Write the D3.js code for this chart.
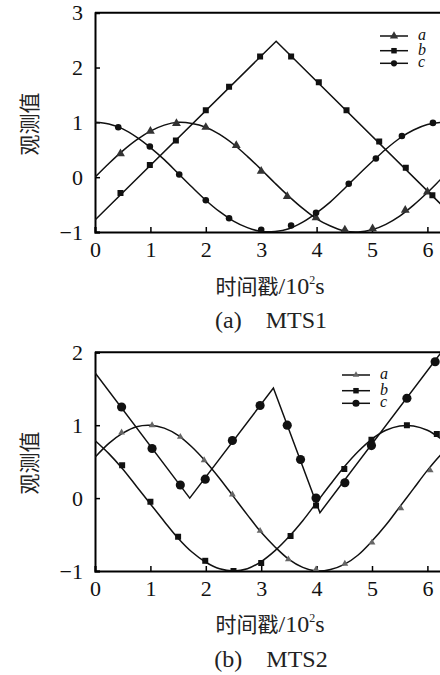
<!DOCTYPE html>
<html><head><meta charset="utf-8">
<script src="https://cdn.jsdelivr.net/npm/d3@7"></script>
<style>body{margin:0;background:#fff}svg{display:block}</style>
</head><body>
<script>
// ---------- data ----------
const xTicks = [0,1,2,3,4,5,6];
const yTicks1 = [-1,0,1,2,3];
const yTicks2 = [-1,0,1,2];
const seriesNames = ["a","b","c"];
const xs = [0,0.25,0.5,0.75,1,1.25,1.5,1.75,2,2.25,2.5,2.75,3,3.25,3.5,3.75,4,4.25,4.5,4.75,5,5.25,5.5,5.75,6,6.25,6.5];

// MTS1
const mts1A = [0,0.25,0.48,0.68,0.84,0.95,1.0,0.98,0.91,0.78,0.6,0.38,0.14,-0.11,-0.35,-0.57,-0.76,-0.89,-0.98,-1.0,-0.96,-0.86,-0.71,-0.51,-0.28,-0.03,0.22];
const mts1C = [1.0,0.97,0.88,0.73,0.54,0.32,0.07,-0.18,-0.42,-0.63,-0.8,-0.92,-0.99,-0.99,-0.94,-0.82,-0.65,-0.45,-0.21,0.04,0.28,0.51,0.71,0.86,0.96,1.0,0.98];
const mts1Bx = [0,3.27,6.6];
const mts1By = [-0.78,2.48,-0.85];
const mts1AmX = [0.46,1.0,1.47,2.0,2.55,3.0,3.47,3.99,4.51,5.01,5.6,6.0];
const mts1AmY = [0.43,0.84,0.98,0.91,0.58,0.11,-0.35,-0.74,-0.96,-0.94,-0.6,-0.27];
const mts1BmX = [0.46,0.99,1.46,2.0,2.42,2.98,3.54,4.04,4.54,5.13,5.61,6.09];
const mts1BmY = [-0.29,0.22,0.67,1.22,1.65,2.2,2.2,1.73,1.22,0.65,0.17,-0.33];
const mts1CmX = [0.42,0.99,1.52,2.0,2.42,3.0,3.54,3.99,4.58,5.07,5.54,6.1];
const mts1CmY = [0.91,0.56,0.05,-0.42,-0.75,-0.96,-0.88,-0.65,-0.12,0.34,0.75,0.99];

// MTS2
const mts2A = [0.56,0.75,0.89,0.98,1.0,0.96,0.86,0.7,0.5,0.27,0.02,-0.23,-0.47,-0.67,-0.84,-0.95,-1.0,-0.98,-0.91,-0.78,-0.59,-0.37,-0.12,0.13,0.38,0.6,0.78];
const mts2B = [0.79,0.61,0.4,0.16,-0.08,-0.32,-0.55,-0.74,-0.88,-0.97,-1.0,-0.97,-0.87,-0.72,-0.53,-0.31,-0.06,0.19,0.43,0.64,0.81,0.93,0.99,0.99,0.93,0.81,0.65];
const mts2Cx = [0,1.71,3.22,4.06,6.5];
const mts2Cy = [1.72,0,1.51,-0.2,2.25];
const mts2AmX = [0.48,1.03,1.54,1.97,2.48,2.98,3.49,3.99,4.51,5.0,5.52,6.05];
const mts2AmY = [0.9,1.0,0.84,0.52,0.05,-0.45,-0.84,-0.98,-0.9,-0.61,-0.14,0.38];
const mts2BmX = [0.49,1.0,1.5,1.99,2.5,3.0,3.53,3.99,4.5,4.99,5.63,6.17];
const mts2BmY = [0.45,-0.05,-0.53,-0.86,-1.0,-0.89,-0.52,-0.1,0.4,0.8,1.0,0.88];
const mts2CmX = [0.48,1.03,1.54,1.99,2.48,2.98,3.47,3.71,3.99,4.51,4.99,5.63,6.14];
const mts2CmY = [1.25,0.68,0.18,0.26,0.79,1.27,1.0,0.53,0.0,0.21,0.72,1.37,1.87];

// ---------- drawing ----------
const W = 440, H = 675;
const svg = d3.select("body").append("svg").attr("width", W).attr("height", H);
const serif = "'Liberation Serif','Times New Roman',serif";
const cjk = "'Noto Sans CJK SC',sans-serif";

function zip(x, y){ return x.map((v,i)=>[v,y[i]]); }

function panel(cfg){
  const g = svg.append("g");
  const x = d3.scaleLinear().domain([0,7]).range([95, 95+7*55.4]);
  const y = d3.scaleLinear().domain(cfg.yDomain).range([cfg.bottom, cfg.top]);
  const id = "clip"+cfg.id;
  svg.append("clipPath").attr("id", id).append("rect")
    .attr("x", x(0)).attr("y", y(cfg.yDomain[1])).attr("width", x(7)-x(0)).attr("height", y(cfg.yDomain[0])-y(cfg.yDomain[1]));

  // axes
  const xa = g.append("g").attr("transform", `translate(0,${y(cfg.yDomain[0])})`)
    .call(d3.axisBottom(x).tickValues(xTicks).tickSize(-5).tickPadding(9).tickFormat(d3.format("d")));
  const ya = g.append("g").attr("transform", `translate(${x(0)},0)`)
    .call(d3.axisLeft(y).tickValues(cfg.yTicks).tickSize(-5).tickPadding(12).tickFormat(d=> d<0 ? "\u2212"+Math.abs(d) : d));
  [xa, ya].forEach(a=>{
    a.select(".domain").attr("stroke","#000").attr("stroke-width",2);
    a.selectAll(".tick line").attr("stroke","#000").attr("stroke-width",1.5);
    a.selectAll("text").attr("font-family", serif).attr("font-size", 22).attr("fill","#111");
  });
  // top frame
  g.append("line").attr("x1", x(0)).attr("x2", x(7)).attr("y1", y(cfg.yDomain[1])).attr("y2", y(cfg.yDomain[1]))
    .attr("stroke","#000").attr("stroke-width",2);

  const plot = g.append("g").attr("clip-path", `url(#${id})`);
  cfg.series.forEach(s=>{
    const line = d3.line().x(d=>x(d[0])).y(d=>y(d[1])).curve(s.smooth ? d3.curveCatmullRom.alpha(0.5) : d3.curveLinear);
    plot.append("path").datum(s.pts).attr("d", line).attr("fill","none").attr("stroke","#111").attr("stroke-width",1.5);
  });
  cfg.series.forEach(s=>{
    plot.selectAll(null).data(s.marks).enter().append("path")
      .attr("transform", d=>`translate(${x(d[0])},${y(d[1])})`)
      .attr("d", d3.symbol().type(s.sym).size(s.size))
      .attr("fill", s.fill);
  });

  // legend
  const lg = g.append("g");
  cfg.series.forEach((s,i)=>{
    const ly = cfg.legY[i];
    lg.append("line").attr("x1", cfg.legX).attr("x2", cfg.legX+28).attr("y1", ly).attr("y2", ly).attr("stroke","#111").attr("stroke-width",1.5);
    lg.append("path").attr("transform", `translate(${cfg.legX+14},${ly})`).attr("d", d3.symbol().type(s.sym).size(s.legSize)).attr("fill", s.fill);
    lg.append("text").attr("x", cfg.legX+38).attr("y", ly+4).text(seriesNames[i])
      .attr("font-family", serif).attr("font-style","italic").attr("font-size", 16).attr("fill","#111");
  });

  // y label
  g.append("text").attr("transform", `translate(37,${cfg.yLabelY}) rotate(-90)`).attr("text-anchor","middle")
    .attr("font-family", cjk).attr("font-size", 21).attr("fill","#222").text("观测值");
  // x label
  const xl = g.append("text").attr("x", 270).attr("y", cfg.xLabelY).attr("text-anchor","middle").attr("fill","#222");
  xl.append("tspan").attr("font-family", cjk).attr("font-size", 21).text("时间戳");
  xl.append("tspan").attr("font-family", serif).attr("font-size", 24).text("/10");
  xl.append("tspan").attr("font-family", serif).attr("font-size", 12).attr("dy", -10).text("2");
  xl.append("tspan").attr("font-family", serif).attr("font-size", 24).attr("dy", 10).text("s");
  // subtitle
  g.append("text").attr("x", 271).attr("y", cfg.subY).attr("text-anchor","middle")
    .attr("font-family", serif).attr("font-size", 24).attr("fill","#222")
    .text(cfg.sub);
}

panel({
  id: 1, yDomain: [-1,3], yTicks: yTicks1, top: 12.7, bottom: 232,
  series: [
    {pts: zip(xs, mts1A), smooth: true, marks: zip(mts1AmX, mts1AmY), sym: d3.symbolTriangle, size: 34, legSize: 30, fill: "#333"},
    {pts: zip(mts1Bx, mts1By), smooth: false, marks: zip(mts1BmX, mts1BmY), sym: d3.symbolSquare, size: 36, legSize: 30, fill: "#111"},
    {pts: zip(xs, mts1C), smooth: true, marks: zip(mts1CmX, mts1CmY), sym: d3.symbolCircle, size: 34, legSize: 30, fill: "#111"}
  ],
  legX: 380, legY: [36, 50.7, 63.3],
  yLabelY: 124, xLabelY: 294, subY: 328, sub: "(a)\u2003MTS1"
});

panel({
  id: 2, yDomain: [-1,2], yTicks: yTicks2, top: 352.3, bottom: 571,
  series: [
    {pts: zip(xs, mts2A), smooth: true, marks: zip(mts2AmX, mts2AmY), sym: d3.symbolTriangle, size: 20, legSize: 18, fill: "#666"},
    {pts: zip(xs, mts2B), smooth: true, marks: zip(mts2BmX, mts2BmY), sym: d3.symbolSquare, size: 36, legSize: 30, fill: "#111"},
    {pts: zip(mts2Cx, mts2Cy), smooth: false, marks: zip(mts2CmX, mts2CmY), sym: d3.symbolCircle, size: 66, legSize: 40, fill: "#111"}
  ],
  legX: 342, legY: [375, 390.7, 403.3],
  yLabelY: 463, xLabelY: 632, subY: 667, sub: "(b)\u2003MTS2"
});
</script>
</body></html>
